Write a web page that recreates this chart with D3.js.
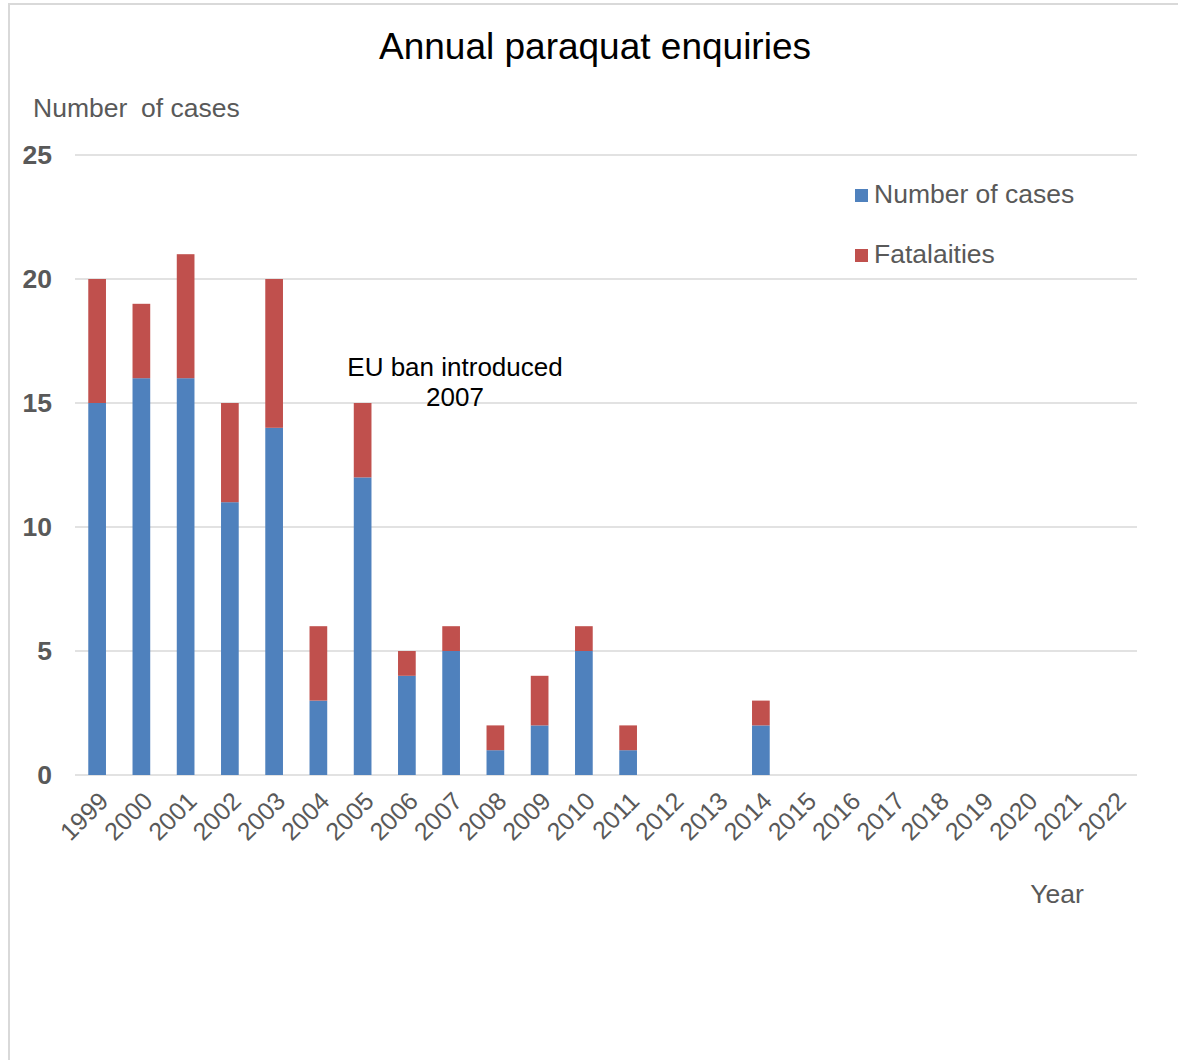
<!DOCTYPE html>
<html>
<head>
<meta charset="utf-8">
<script src="https://cdn.jsdelivr.net/npm/d3@7"></script>
<style>
  html, body { margin: 0; padding: 0; background: #fff; }
  svg { display: block; font-family: Arial, "Liberation Sans", sans-serif; }
</style>
</head>
<body>
<svg id="chart" width="1178" height="1060"></svg>
<script>
const years = ["1999","2000","2001","2002","2003","2004","2005","2006","2007","2008","2009","2010","2011","2012","2013","2014","2015","2016","2017","2018","2019","2020","2021","2022"];
const cases = [15,16,16,11,14,3,12,4,5,1,2,5,1,0,0,2,0,0,0,0,0,0,0,0];
const fatalities = [5,3,5,4,6,3,3,1,1,1,2,1,1,0,0,1,0,0,0,0,0,0,0,0];
const yTicks = [0,5,10,15,20,25];
const seriesNames = ["Number of cases","Fatalaities"];
const colors = ["#4f81bd","#c0504d"];

(function () {
const svg = d3.select("#chart");
const pLeft = 75, pRight = 1137, pTop = 155, pBottom = 775;

// border
svg.append("line").attr("x1", 9).attr("x2", 9).attr("y1", 4).attr("y2", 1060)
  .attr("stroke", "#d9d9d9").attr("stroke-width", 2);
svg.append("line").attr("x1", 8).attr("x2", 1178).attr("y1", 4).attr("y2", 4)
  .attr("stroke", "#d9d9d9").attr("stroke-width", 2);

const x = d3.scaleBand().domain(years).range([pLeft, pRight]).paddingInner(0.6).paddingOuter(0.3);
const y = d3.scaleLinear().domain([0, 25]).range([pBottom, pTop]);

// gridlines
svg.append("g").selectAll("line").data(yTicks).join("line")
  .attr("x1", pLeft).attr("x2", pRight)
  .attr("y1", d => y(d)).attr("y2", d => y(d))
  .attr("stroke", "#d9d9d9").attr("stroke-width", 1.3);

// y axis labels
const yAxis = d3.axisLeft(y).tickValues(yTicks).tickSize(0).tickPadding(0);
const yg = svg.append("g").attr("transform", `translate(52,0)`).call(yAxis);
yg.select(".domain").remove();
yg.selectAll("text").attr("font-size", 26.5).attr("font-weight", "bold").attr("fill", "#595959")
  .attr("font-family", "Arial, 'Liberation Sans', sans-serif");

// stacked data
const rows = years.map((yr, i) => ({year: yr, cases: cases[i], fatal: fatalities[i]}));
const stack = d3.stack().keys(["cases","fatal"])(rows);
svg.append("g").selectAll("g").data(stack).join("g")
  .attr("fill", (d, i) => colors[i])
  .selectAll("rect").data(d => d.filter(s => s[1] - s[0] > 0)).join("rect")
  .attr("x", d => x(d.data.year))
  .attr("width", x.bandwidth())
  .attr("y", d => y(d[1]))
  .attr("height", d => y(d[0]) - y(d[1]));

// x axis labels
const xAxis = d3.axisBottom(x).tickSize(0).tickPadding(0);
const xg = svg.append("g").attr("transform", `translate(0,${pBottom})`).call(xAxis);
xg.select(".domain").remove();
xg.selectAll("text")
  .attr("font-size", 25).attr("fill", "#595959")
  .attr("font-family", "Arial, 'Liberation Sans', sans-serif")
  .attr("text-anchor", "end")
  .attr("dy", null).attr("y", 0).attr("x", 0)
  .attr("transform", "translate(8,23) rotate(-45)")
  .attr("dominant-baseline", "middle");

// title
svg.append("text").attr("x", 595).attr("y", 59).attr("text-anchor", "middle")
  .attr("font-size", 37).attr("fill", "#000").text("Annual paraquat enquiries");

// y axis title
const yt = svg.append("text").attr("y", 117).attr("font-size", 26.5).attr("fill", "#595959");
yt.append("tspan").attr("x", 33).text("Number");
yt.append("tspan").attr("x", 141).text("of cases");

// x axis title
svg.append("text").attr("x", 1057).attr("y", 903).attr("text-anchor", "middle")
  .attr("font-size", 26.5).attr("fill", "#595959").text("Year");

// annotation
const ann = svg.append("text").attr("text-anchor", "middle").attr("font-size", 26).attr("fill", "#000");
ann.append("tspan").attr("x", 455).attr("y", 376).text("EU ban introduced");
ann.append("tspan").attr("x", 455).attr("y", 406).text("2007");

// legend
const lg = svg.append("g");
seriesNames.forEach((name, i) => {
  const ly = 196 + i * 60;
  lg.append("rect").attr("x", 855).attr("y", ly - 7).attr("width", 13).attr("height", 13).attr("fill", colors[i]);
  lg.append("text").attr("x", 874).attr("y", ly).attr("dominant-baseline", "middle")
    .attr("font-size", 26.5).attr("fill", "#595959").text(name);
});
})();
</script>
</body>
</html>
